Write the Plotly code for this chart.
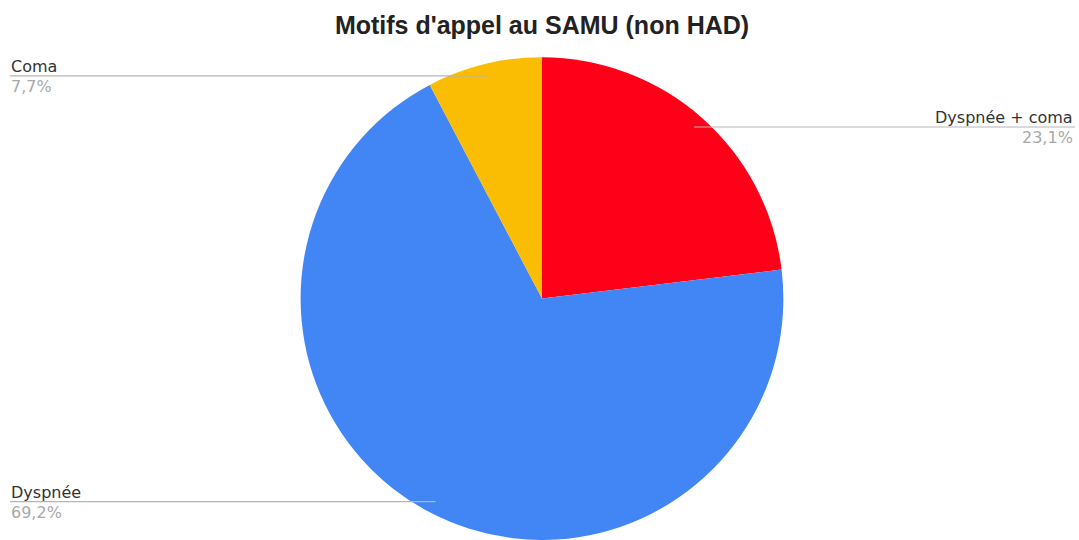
import math
import plotly.graph_objects as go

labels = ["Dyspnée + coma", "Dyspnée", "Coma"]
values = [3, 9, 1]
colors = ["#FF0019", "#4285F4", "#FBBC04"]
label_side = ["right", "left", "left"]

W, H = 1079, 540
# pie placement (paper units)
dom_x = [0.0046, 1.0]
dom_y = [0.0, 0.894]
cx_px = (dom_x[0] + dom_x[1]) / 2 * W
cy_px = H - (dom_y[0] + dom_y[1]) / 2 * H
R_px = (dom_y[1] - dom_y[0]) * H / 2

fig = go.Figure(go.Pie(
    labels=labels, values=values, marker=dict(colors=colors, line=dict(width=0)),
    sort=False, direction="clockwise", rotation=0, textinfo="none",
    domain=dict(x=dom_x, y=dom_y), showlegend=False, hoverinfo="label+percent",
))

FONT = "DejaVu Sans, Liberation Sans, Arial"
total = sum(values)
cum = 0
shapes, annots = [], []
for lab, v, side in zip(labels, values, label_side):
    mid = (cum + v / 2) / total * 2 * math.pi
    cum += v
    k = 0.95
    px = cx_px + R_px * k * math.sin(mid)
    py = cy_px - R_px * k * math.cos(mid)
    pct = f"{v / total * 100:.1f}".replace(".", ",") + "%"
    if side == "left":
        x0, x1, tx, anchor = 10, px, 10, "left"
    else:
        x0, x1, tx, anchor = px, 1075, 1075, "right"
    shapes.append(dict(type="line", xref="paper", yref="paper",
                       x0=x0 / W, x1=x1 / W, y0=1 - py / H, y1=1 - py / H,
                       line=dict(color="#b5b5b5", width=1.2)))
    annots.append(dict(x=tx / W, y=1 - py / H, xref="paper", yref="paper", text=lab,
                       showarrow=False, xanchor=anchor, yanchor="bottom", yshift=-1,
                       borderpad=0, xshift=-1 if side == "right" else 0,
                       font=dict(family=FONT, size=16, color="#333333")))
    annots.append(dict(x=tx / W, y=1 - py / H, xref="paper", yref="paper", text=pct,
                       showarrow=False, xanchor=anchor, yanchor="top", yshift=0,
                       borderpad=0, xshift=-1 if side == "right" else 0,
                       font=dict(family=FONT, size=16, color="#a8a8a8")))

fig.update_layout(
    width=W, height=H, margin=dict(l=0, r=0, t=0, b=0),
    paper_bgcolor="white", plot_bgcolor="white",
    title=dict(text="<b>Motifs d'appel au SAMU (non HAD)</b>", x=542 / W, xanchor="center",
               y=1 - 25 / H, yanchor="middle",
               font=dict(family="Liberation Sans, Arial", size=25, color="#222222")),
    shapes=shapes, annotations=annots,
)
fig.write_html("out.html", config={"displayModeBar": False},
               post_script="document.body.style.margin='0';document.body.style.overflow='hidden';")
